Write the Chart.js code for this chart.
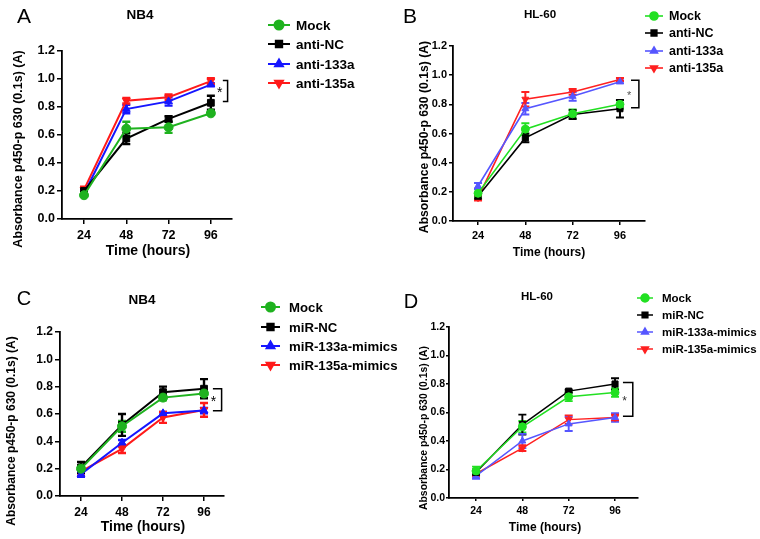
<!DOCTYPE html>
<html lang="en">
<head>
<meta charset="UTF-8">
<title>Absorbance panels</title>
<script src="https://cdn.jsdelivr.net/npm/chart.js@4.4.0/dist/chart.umd.min.js"></script>
<style>
  body { margin: 0; background: #fff; }
  #wrap { position: relative; width: 760px; height: 539px; overflow: hidden; }
  canvas { position: absolute; }
</style>
</head>
<body>
<div id="wrap">
  <canvas id="cA" width="380" height="270" style="left:0;top:0"></canvas>
  <canvas id="cB" width="380" height="270" style="left:380px;top:0"></canvas>
  <canvas id="cC" width="420" height="269" style="left:0;top:270px"></canvas>
  <canvas id="cD" width="380" height="269" style="left:380px;top:270px"></canvas>
</div>
<script>
// shared axis values
const hours = [24, 48, 72, 96];
const yTicks = [0, 0.2, 0.4, 0.6, 0.8, 1.0, 1.2];

const labelsAnti = ['Mock', 'anti-NC', 'anti-133a', 'anti-135a'];
const labelsMimic = ['Mock', 'miR-NC', 'miR-133a-mimics', 'miR-135a-mimics'];

// A - NB4, inhibitors
const mockA = [0.17, 0.645, 0.655, 0.755];
const mockAErr = [0.01, 0.05, 0.04, 0.01];
const ncA = [0.20, 0.575, 0.715, 0.83];
const ncAErr = [0.02, 0.04, 0.02, 0.05];
const a133A = [0.18, 0.785, 0.84, 0.96];
const a133AErr = [0.01, 0.03, 0.03, 0.01];
const a135A = [0.21, 0.845, 0.87, 0.985];
const a135AErr = [0.02, 0.02, 0.02, 0.02];
const sigA = [0.99, 0.84];

// B - HL-60, inhibitors
const mockB = [0.19, 0.63, 0.735, 0.80];
const mockBErr = [0.03, 0.04, 0.03, 0.03];
const ncB = [0.17, 0.57, 0.73, 0.77];
const ncBErr = [0.02, 0.03, 0.03, 0.06];
const a133B = [0.24, 0.77, 0.855, 0.955];
const a133BErr = [0.02, 0.04, 0.03, 0.01];
const a135B = [0.16, 0.835, 0.885, 0.97];
const a135BErr = [0.02, 0.05, 0.02, 0.01];
const sigB = [0.966, 0.776];

// C - NB4, mimics
const mockC = [0.20, 0.51, 0.72, 0.75];
const mockCErr = [0.02, 0.04, 0.02, 0.01];
const ncC = [0.21, 0.52, 0.76, 0.785];
const ncCErr = [0.04, 0.08, 0.04, 0.07];
const m133C = [0.16, 0.39, 0.605, 0.625];
const m133CErr = [0.02, 0.02, 0.01, 0.02];
const m135C = [0.18, 0.345, 0.575, 0.63];
const m135CErr = [0.03, 0.03, 0.04, 0.05];
const sigC = [0.785, 0.624];

// D - HL-60, mimics
const mockD = [0.19, 0.50, 0.71, 0.74];
const mockDErr = [0.03, 0.04, 0.03, 0.03];
const ncD = [0.18, 0.515, 0.75, 0.80];
const ncDErr = [0.02, 0.07, 0.01, 0.04];
const m133D = [0.155, 0.40, 0.52, 0.565];
const m133DErr = [0.02, 0.05, 0.05, 0.03];
const m135D = [0.17, 0.35, 0.55, 0.565];
const m135DErr = [0.02, 0.02, 0.03, 0.02];
const sigD = [0.81, 0.573];

const FONT = '"Liberation Sans", Arial, sans-serif';
const darkColors = ['#1fb21f', '#000000', '#1616ff', '#ff1a1a'];
const lightColors = ['#22e022', '#000000', '#5656ff', '#ff2020'];
const styles = [
  { pointStyle: 'circle', rotation: 0 },
  { pointStyle: 'rect', rotation: 0 },
  { pointStyle: 'triangle', rotation: 0 },
  { pointStyle: 'triangle', rotation: 180 }
];

const panels = [
  {
    id: 'cA', letter: 'A', title: 'NB4', labels: labelsAnti, colors: darkColors,
    series: [mockA, ncA, a133A, a135A], errs: [mockAErr, ncAErr, a133AErr, a135AErr], sig: sigA,
    area: { l: 62, r: 232, t: 51, b: 219 }, xMin: 11.5, xMax: 108,
    tickFs: 12.5, tickLen: 5, tickPad: 2, titleFs: 13.5, axisFs: 14, yTitleFs: 12.5, legFs: 13.5, lw: 2, pr: 4.5,
    letterPos: [24, 17, 21], titlePos: [140, 15], xTitlePos: [148, 251], yTitlePos: [19, 149],
    leg: { x1: 268, x2: 290, tx: 296, ys: [25, 44, 64, 83] },
    brk: { x1: 102.8, x2: 105.5, sx: 101, sy: 0.916, fs: 14, color: '#000' }
  },
  {
    id: 'cB', letter: 'B', title: 'HL-60', labels: labelsAnti, colors: lightColors,
    series: [mockB, ncB, a133B, a135B], errs: [mockBErr, ncBErr, a133BErr, a135BErr], sig: sigB,
    area: { l: 73, r: 265, t: 46, b: 221 }, xMin: 11.3, xMax: 108.7,
    tickFs: 11, tickLen: 4, tickPad: 2, titleFs: 11.6, axisFs: 12, yTitleFs: 12.2, legFs: 12.5, lw: 1.6, pr: 4,
    letterPos: [30, 17, 21], titlePos: [160, 15], xTitlePos: [169, 253], yTitlePos: [45, 137],
    leg: { x1: 265, x2: 283, tx: 289, ys: [16, 33, 51, 68] },
    brk: { x1: 101.6, x2: 105.6, sx: 100.6, sy: 0.868, fs: 11, color: '#555' }
  },
  {
    id: 'cC', letter: 'C', title: 'NB4', labels: labelsMimic, colors: darkColors,
    series: [mockC, ncC, m133C, m135C], errs: [mockCErr, ncCErr, m133CErr, m135CErr], sig: sigC,
    area: { l: 60, r: 224, t: 62, b: 226 }, xMin: 11.7, xMax: 107.7,
    tickFs: 12, tickLen: 5, tickPad: 2, titleFs: 13.5, axisFs: 14, yTitleFs: 12, legFs: 13.2, lw: 2, pr: 4.5,
    letterPos: [24, 29, 20], titlePos: [142, 30], xTitlePos: [143, 257], yTitlePos: [12, 161],
    leg: { x1: 261, x2: 280, tx: 289, ys: [37, 57, 76, 95] },
    brk: { x1: 101.2, x2: 106.3, sx: 101.5, sy: 0.705, fs: 14, color: '#000' }
  },
  {
    id: 'cD', letter: 'D', title: 'HL-60', labels: labelsMimic, colors: lightColors,
    series: [mockD, ncD, m133D, m135D], errs: [mockDErr, ncDErr, m133DErr, m135DErr], sig: sigD,
    area: { l: 69, r: 258, t: 57, b: 228 }, xMin: 10, xMax: 107.9,
    tickFs: 10.5, tickLen: 3, tickPad: 1, titleFs: 11.5, axisFs: 12, yTitleFs: 10.4, legFs: 11.5, lw: 1.5, pr: 4,
    letterPos: [31, 32, 20], titlePos: [157, 27], xTitlePos: [165, 258], yTitlePos: [44, 158],
    leg: { x1: 257, x2: 273, tx: 282, ys: [28, 45, 62, 79] },
    brk: { x1: 100.1, x2: 105.2, sx: 100.9, sy: 0.69, fs: 12, color: '#333' }
  }
];

// error bars, bracket, titles and legend for one panel
const extrasPlugin = {
  id: 'extras',
  beforeDatasetsDraw(chart, args, p) {
    const ctx = chart.ctx;
    const ys = chart.scales.y;
    ctx.save();
    chart.data.datasets.forEach((ds, i) => {
      const meta = chart.getDatasetMeta(i);
      ctx.strokeStyle = ds.borderColor;
      ctx.lineWidth = p.lw + 0.4;
      meta.data.forEach((pt, j) => {
        const v = ds.data[j].y, e = p.errs[i][j];
        const yt = ys.getPixelForValue(v + e);
        const yb = ys.getPixelForValue(v - e);
        ctx.beginPath();
        ctx.moveTo(pt.x, yt); ctx.lineTo(pt.x, yb);
        ctx.moveTo(pt.x - 4, yt); ctx.lineTo(pt.x + 4, yt);
        ctx.moveTo(pt.x - 4, yb); ctx.lineTo(pt.x + 4, yb);
        ctx.stroke();
      });
    });
    ctx.restore();
  },
  afterDraw(chart, args, p) {
    const ctx = chart.ctx;
    const xs = chart.scales.x, ys = chart.scales.y;
    ctx.save();

    // significance bracket
    const bx1 = xs.getPixelForValue(p.brk.x1), bx2 = xs.getPixelForValue(p.brk.x2);
    const by1 = ys.getPixelForValue(p.sig[0]), by2 = ys.getPixelForValue(p.sig[1]);
    ctx.strokeStyle = '#000';
    ctx.lineWidth = 1.5;
    ctx.beginPath();
    ctx.moveTo(bx1, by1); ctx.lineTo(bx2, by1); ctx.lineTo(bx2, by2); ctx.lineTo(bx1, by2);
    ctx.stroke();
    ctx.fillStyle = p.brk.color;
    ctx.font = p.brk.fs + 'px ' + FONT;
    ctx.textAlign = 'center';
    ctx.textBaseline = 'middle';
    ctx.fillText('*', xs.getPixelForValue(p.brk.sx), ys.getPixelForValue(p.brk.sy) + 2);

    // panel letter and title
    ctx.fillStyle = '#000';
    ctx.font = p.letterPos[2] + 'px ' + FONT;
    ctx.fillText(p.letter, p.letterPos[0], p.letterPos[1]);
    ctx.font = 'bold ' + p.titleFs + 'px ' + FONT;
    ctx.fillText(p.title, p.titlePos[0], p.titlePos[1]);

    // axis titles
    ctx.font = 'bold ' + p.axisFs + 'px ' + FONT;
    ctx.fillText('Time (hours)', p.xTitlePos[0], p.xTitlePos[1]);
    ctx.save();
    ctx.translate(p.yTitlePos[0], p.yTitlePos[1]);
    ctx.rotate(-Math.PI / 2);
    ctx.font = 'bold ' + p.yTitleFs + 'px ' + FONT;
    ctx.fillText('Absorbance p450-p 630 (0.1s) (A)', 0, 0);
    ctx.restore();

    // legend
    chart.data.datasets.forEach((ds, i) => {
      const y = p.leg.ys[i];
      ctx.strokeStyle = ds.borderColor;
      ctx.lineWidth = p.lw;
      ctx.beginPath();
      ctx.moveTo(p.leg.x1, y); ctx.lineTo(p.leg.x2, y);
      ctx.stroke();
      ctx.fillStyle = ds.borderColor;
      Chart.helpers.drawPoint(ctx, {
        pointStyle: ds.pointStyle, rotation: ds.pointRotation, radius: p.pr, borderWidth: 1
      }, (p.leg.x1 + p.leg.x2) / 2, y);
      ctx.fillStyle = '#000';
      ctx.textAlign = 'left';
      ctx.font = 'bold ' + p.legFs + 'px ' + FONT;
      ctx.fillText(ds.label, p.leg.tx, y + 1);
    });
    ctx.restore();
  }
};

panels.forEach(p => {
  const cv = document.getElementById(p.id);
  const datasets = p.series.map((vals, i) => ({
    label: p.labels[i],
    data: hours.map((h, j) => ({ x: h, y: vals[j] })),
    borderColor: p.colors[i],
    backgroundColor: p.colors[i],
    borderWidth: p.lw,
    pointStyle: styles[i].pointStyle,
    pointRotation: styles[i].rotation,
    pointRadius: p.pr + (i === 1 ? 0.3 : 0),
    pointBorderWidth: 1,
    tension: 0
  }));

  new Chart(cv, {
    type: 'line',
    data: { datasets: datasets },
    plugins: [extrasPlugin],
    options: {
      responsive: false,
      animation: false,
      devicePixelRatio: 1,
      layout: {
        padding: { left: 0, top: p.area.t, right: cv.width - p.area.r, bottom: 0 }
      },
      plugins: {
        legend: { display: false },
        title: { display: false },
        tooltip: { enabled: false },
        extras: p
      },
      scales: {
        x: {
          type: 'linear',
          min: p.xMin,
          max: p.xMax,
          afterBuildTicks: s => { s.ticks = hours.map(v => ({ value: v })); },
          afterFit: s => { s.height = cv.height - p.area.b; },
          grid: { drawOnChartArea: false, drawTicks: true, tickLength: p.tickLen, color: '#000', lineWidth: 1.5 },
          border: { display: true, color: '#000', width: 1.8 },
          ticks: {
            color: '#000', padding: 4, maxRotation: 0,
            font: { family: FONT, size: p.tickFs, weight: 'bold' }
          }
        },
        y: {
          min: 0,
          max: 1.2,
          afterBuildTicks: s => { s.ticks = yTicks.map(v => ({ value: v })); },
          afterFit: s => { s.width = p.area.l; },
          grid: { drawOnChartArea: false, drawTicks: true, tickLength: p.tickLen, color: '#000', lineWidth: 1.5 },
          border: { display: true, color: '#000', width: 1.8 },
          ticks: {
            color: '#000', padding: p.tickPad,
            callback: v => v.toFixed(1),
            font: { family: FONT, size: p.tickFs, weight: 'bold' }
          }
        }
      }
    }
  });
});
</script>
</body>
</html>
